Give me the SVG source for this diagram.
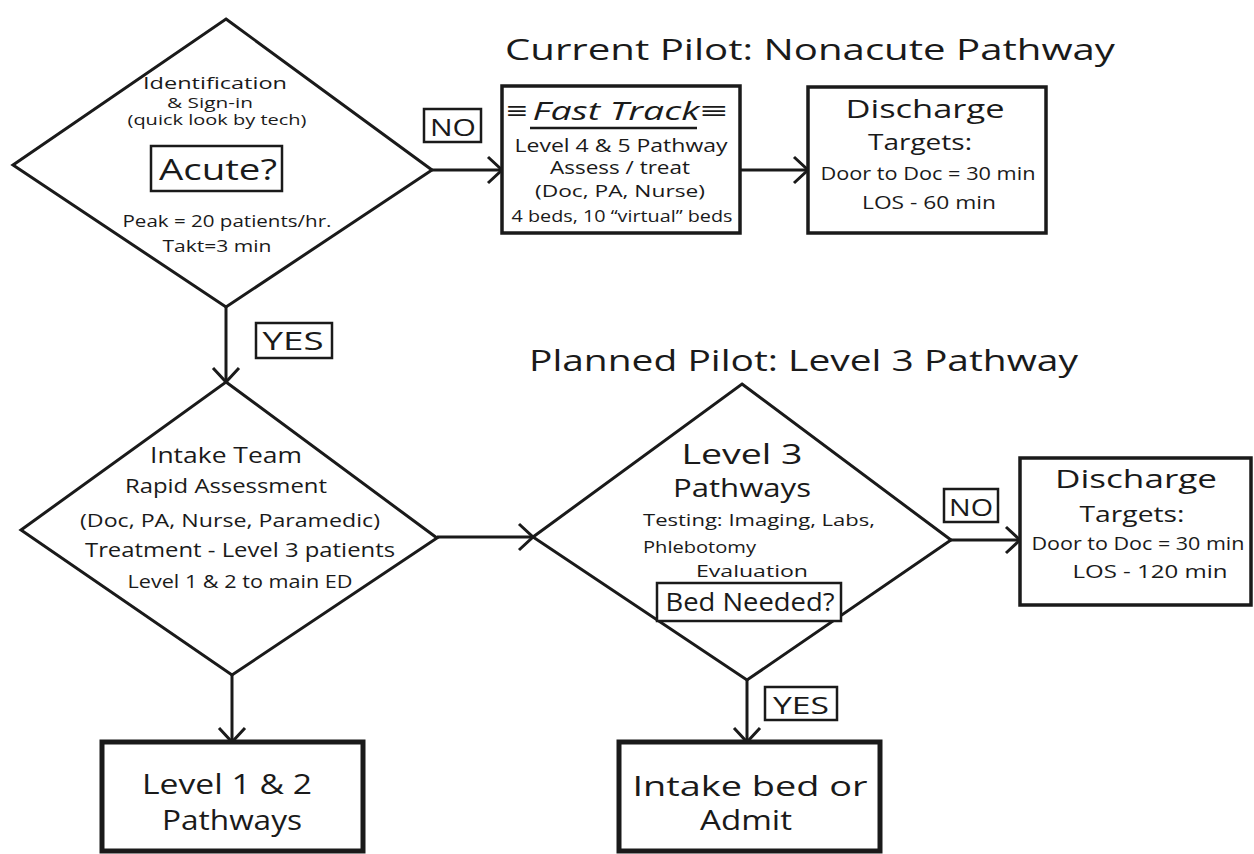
<svg xmlns="http://www.w3.org/2000/svg" width="1254" height="854" viewBox="0 0 1254 854">
  <defs>
    <style>
      .bg { fill: #ffffff; }
      .shape { fill: #ffffff; stroke: #1a1a1a; stroke-width: 3; stroke-linejoin: miter; }
      .box { fill: #ffffff; stroke: #1a1a1a; stroke-width: 3.5; }
      .heavy { fill: #ffffff; stroke: #1a1a1a; stroke-width: 5; }
      .tag { fill: #ffffff; stroke: #1a1a1a; stroke-width: 2.5; }
      .edge { fill: none; stroke: #1a1a1a; stroke-width: 3; }
      text { font-family: "Open Sans", "Liberation Sans", sans-serif; fill: #1a1a1a; }
      .c { text-anchor: middle; }
      .s { text-anchor: start; }
    </style>
    <marker id="arrow" viewBox="0 0 30 30" refX="16" refY="15" markerWidth="30" markerHeight="30" markerUnits="userSpaceOnUse" orient="auto" overflow="visible">
      <path d="M2,2 L16,15 L2,28" fill="none" stroke="#1a1a1a" stroke-width="3"/>
    </marker>
  </defs>

  <rect class="bg" x="0" y="0" width="1254" height="854"/>

  <!-- section headings -->
  <g id="heading-current">
    <text class="s" x="505" y="60" font-size="30" textLength="610" lengthAdjust="spacingAndGlyphs">Current Pilot: Nonacute Pathway</text>
  </g>
  <g id="heading-planned">
    <text class="s" x="529" y="371" font-size="30" textLength="549" lengthAdjust="spacingAndGlyphs">Planned Pilot: Level 3 Pathway</text>
  </g>

  <!-- connectors -->
  <g id="connectors">
    <path class="edge" d="M432,170 H502" marker-end="url(#arrow)"/>
    <path class="edge" d="M740,170 H808" marker-end="url(#arrow)"/>
    <path class="edge" d="M226,307 V382" marker-end="url(#arrow)"/>
    <path class="edge" d="M437,537 H533" marker-end="url(#arrow)"/>
    <path class="edge" d="M951,540 H1020" marker-end="url(#arrow)"/>
    <path class="edge" d="M232,675 V742" marker-end="url(#arrow)"/>
    <path class="edge" d="M747,680 V742" marker-end="url(#arrow)"/>
  </g>

  <!-- decision: identification / acute? -->
  <g id="node-acute">
    <polygon class="shape" points="226,19 432,170 226,307 13,165"/>
    <text class="c" x="215" y="89" font-size="17" textLength="144" lengthAdjust="spacingAndGlyphs">Identification</text>
    <text class="c" x="210" y="108" font-size="14" textLength="86" lengthAdjust="spacingAndGlyphs">&amp; Sign-in</text>
    <text class="c" x="217" y="125" font-size="14" textLength="179" lengthAdjust="spacingAndGlyphs">(quick look by tech)</text>
    <rect class="tag" x="151" y="146" width="131" height="45" stroke-width="3"/>
    <text class="c" x="218" y="180" font-size="30" textLength="118" lengthAdjust="spacingAndGlyphs">Acute?</text>
    <text class="c" x="227" y="227" font-size="17" textLength="209" lengthAdjust="spacingAndGlyphs">Peak = 20 patients/hr.</text>
    <text class="c" x="217" y="252" font-size="17" textLength="109" lengthAdjust="spacingAndGlyphs">Takt=3 min</text>
  </g>

  <g id="label-no-1">
    <rect class="tag" x="424" y="109" width="57" height="33"/>
    <text class="c" x="453" y="136" font-size="24" textLength="46" lengthAdjust="spacingAndGlyphs">NO</text>
  </g>

  <!-- fast track -->
  <g id="node-fast-track">
    <rect class="box" x="502" y="86" width="238" height="147"/>
    <text class="c" x="517" y="119" font-size="24" textLength="21" lengthAdjust="spacingAndGlyphs">≡</text>
    <text class="c" x="616" y="120" font-size="26" font-style="italic" textLength="167" lengthAdjust="spacingAndGlyphs">Fast Track</text>
    <text class="c" x="714" y="119" font-size="24" textLength="27" lengthAdjust="spacingAndGlyphs">≡</text>
    <line x1="530" y1="128" x2="697" y2="128" stroke="#1a1a1a" stroke-width="2.5"/>
    <text class="c" x="621" y="152" font-size="18" textLength="213" lengthAdjust="spacingAndGlyphs">Level 4 &amp; 5 Pathway</text>
    <text class="c" x="620" y="174" font-size="18" textLength="140" lengthAdjust="spacingAndGlyphs">Assess / treat</text>
    <text class="c" x="620" y="197" font-size="17" textLength="170" lengthAdjust="spacingAndGlyphs">(Doc, PA, Nurse)</text>
    <text class="c" x="622" y="222" font-size="17" textLength="221" lengthAdjust="spacingAndGlyphs">4 beds, 10 “virtual” beds</text>
  </g>

  <!-- discharge (nonacute) -->
  <g id="node-discharge-60">
    <rect class="box" x="808" y="87" width="238" height="146"/>
    <text class="c" x="925" y="118" font-size="26" textLength="159" lengthAdjust="spacingAndGlyphs">Discharge</text>
    <text class="c" x="920" y="150" font-size="22" textLength="104" lengthAdjust="spacingAndGlyphs">Targets:</text>
    <text class="c" x="928" y="180" font-size="19" textLength="215" lengthAdjust="spacingAndGlyphs">Door to Doc = 30 min</text>
    <text class="c" x="929" y="209" font-size="19" textLength="134" lengthAdjust="spacingAndGlyphs">LOS - 60 min</text>
  </g>

  <g id="label-yes-1">
    <rect class="tag" x="256" y="323" width="76" height="35"/>
    <text class="c" x="293" y="350" font-size="25" textLength="61" lengthAdjust="spacingAndGlyphs">YES</text>
  </g>

  <!-- intake team -->
  <g id="node-intake-team">
    <polygon class="shape" points="226,382 437,538 232,675 21,530"/>
    <text class="c" x="226" y="463" font-size="22" textLength="152" lengthAdjust="spacingAndGlyphs">Intake Team</text>
    <text class="c" x="226" y="493" font-size="20" textLength="202" lengthAdjust="spacingAndGlyphs">Rapid Assessment</text>
    <text class="c" x="230" y="527" font-size="19" textLength="300" lengthAdjust="spacingAndGlyphs">(Doc, PA, Nurse, Paramedic)</text>
    <text class="c" x="240" y="557" font-size="20" textLength="310" lengthAdjust="spacingAndGlyphs">Treatment - Level 3 patients</text>
    <text class="c" x="240" y="588" font-size="18" textLength="225" lengthAdjust="spacingAndGlyphs">Level 1 &amp; 2 to main ED</text>
  </g>

  <!-- level 3 pathways -->
  <g id="node-level3">
    <polygon class="shape" points="742,384 951,540 747,680 533,537"/>
    <text class="c" x="742" y="464" font-size="27" textLength="121" lengthAdjust="spacingAndGlyphs">Level 3</text>
    <text class="c" x="742" y="497" font-size="26" textLength="138" lengthAdjust="spacingAndGlyphs">Pathways</text>
    <text class="s" x="643" y="526" font-size="17" textLength="232" lengthAdjust="spacingAndGlyphs">Testing: Imaging, Labs,</text>
    <text class="s" x="643" y="553" font-size="17" textLength="113" lengthAdjust="spacingAndGlyphs">Phlebotomy</text>
    <text class="s" x="696" y="577" font-size="16" textLength="112" lengthAdjust="spacingAndGlyphs">Evaluation</text>
    <rect class="tag" x="657" y="583" width="184" height="38"/>
    <text class="c" x="750" y="611" font-size="25" textLength="169" lengthAdjust="spacingAndGlyphs">Bed Needed?</text>
  </g>

  <g id="label-no-2">
    <rect class="tag" x="944" y="489" width="54" height="33"/>
    <text class="c" x="971" y="516" font-size="24" textLength="44" lengthAdjust="spacingAndGlyphs">NO</text>
  </g>

  <!-- discharge (level 3) -->
  <g id="node-discharge-120">
    <rect class="box" x="1020" y="458" width="231" height="147"/>
    <text class="c" x="1136" y="488" font-size="26" textLength="162" lengthAdjust="spacingAndGlyphs">Discharge</text>
    <text class="c" x="1132" y="522" font-size="22" textLength="105" lengthAdjust="spacingAndGlyphs">Targets:</text>
    <text class="c" x="1138" y="550" font-size="19" textLength="213" lengthAdjust="spacingAndGlyphs">Door to Doc = 30 min</text>
    <text class="c" x="1150" y="578" font-size="19" textLength="155" lengthAdjust="spacingAndGlyphs">LOS - 120 min</text>
  </g>

  <g id="label-yes-2">
    <rect class="tag" x="765" y="687" width="72" height="33"/>
    <text class="c" x="801" y="714" font-size="23" textLength="56" lengthAdjust="spacingAndGlyphs">YES</text>
  </g>

  <!-- level 1 & 2 -->
  <g id="node-level12">
    <rect class="heavy" x="102" y="742" width="261" height="109"/>
    <text class="c" x="227" y="794" font-size="28" textLength="170" lengthAdjust="spacingAndGlyphs">Level 1 &amp; 2</text>
    <text class="c" x="232" y="830" font-size="27" textLength="140" lengthAdjust="spacingAndGlyphs">Pathways</text>
  </g>

  <!-- intake bed / admit -->
  <g id="node-admit">
    <rect class="heavy" x="619" y="742" width="261" height="109"/>
    <text class="c" x="750" y="796" font-size="28" textLength="235" lengthAdjust="spacingAndGlyphs">Intake bed or</text>
    <text class="c" x="746" y="830" font-size="27" textLength="92" lengthAdjust="spacingAndGlyphs">Admit</text>
  </g>
</svg>
